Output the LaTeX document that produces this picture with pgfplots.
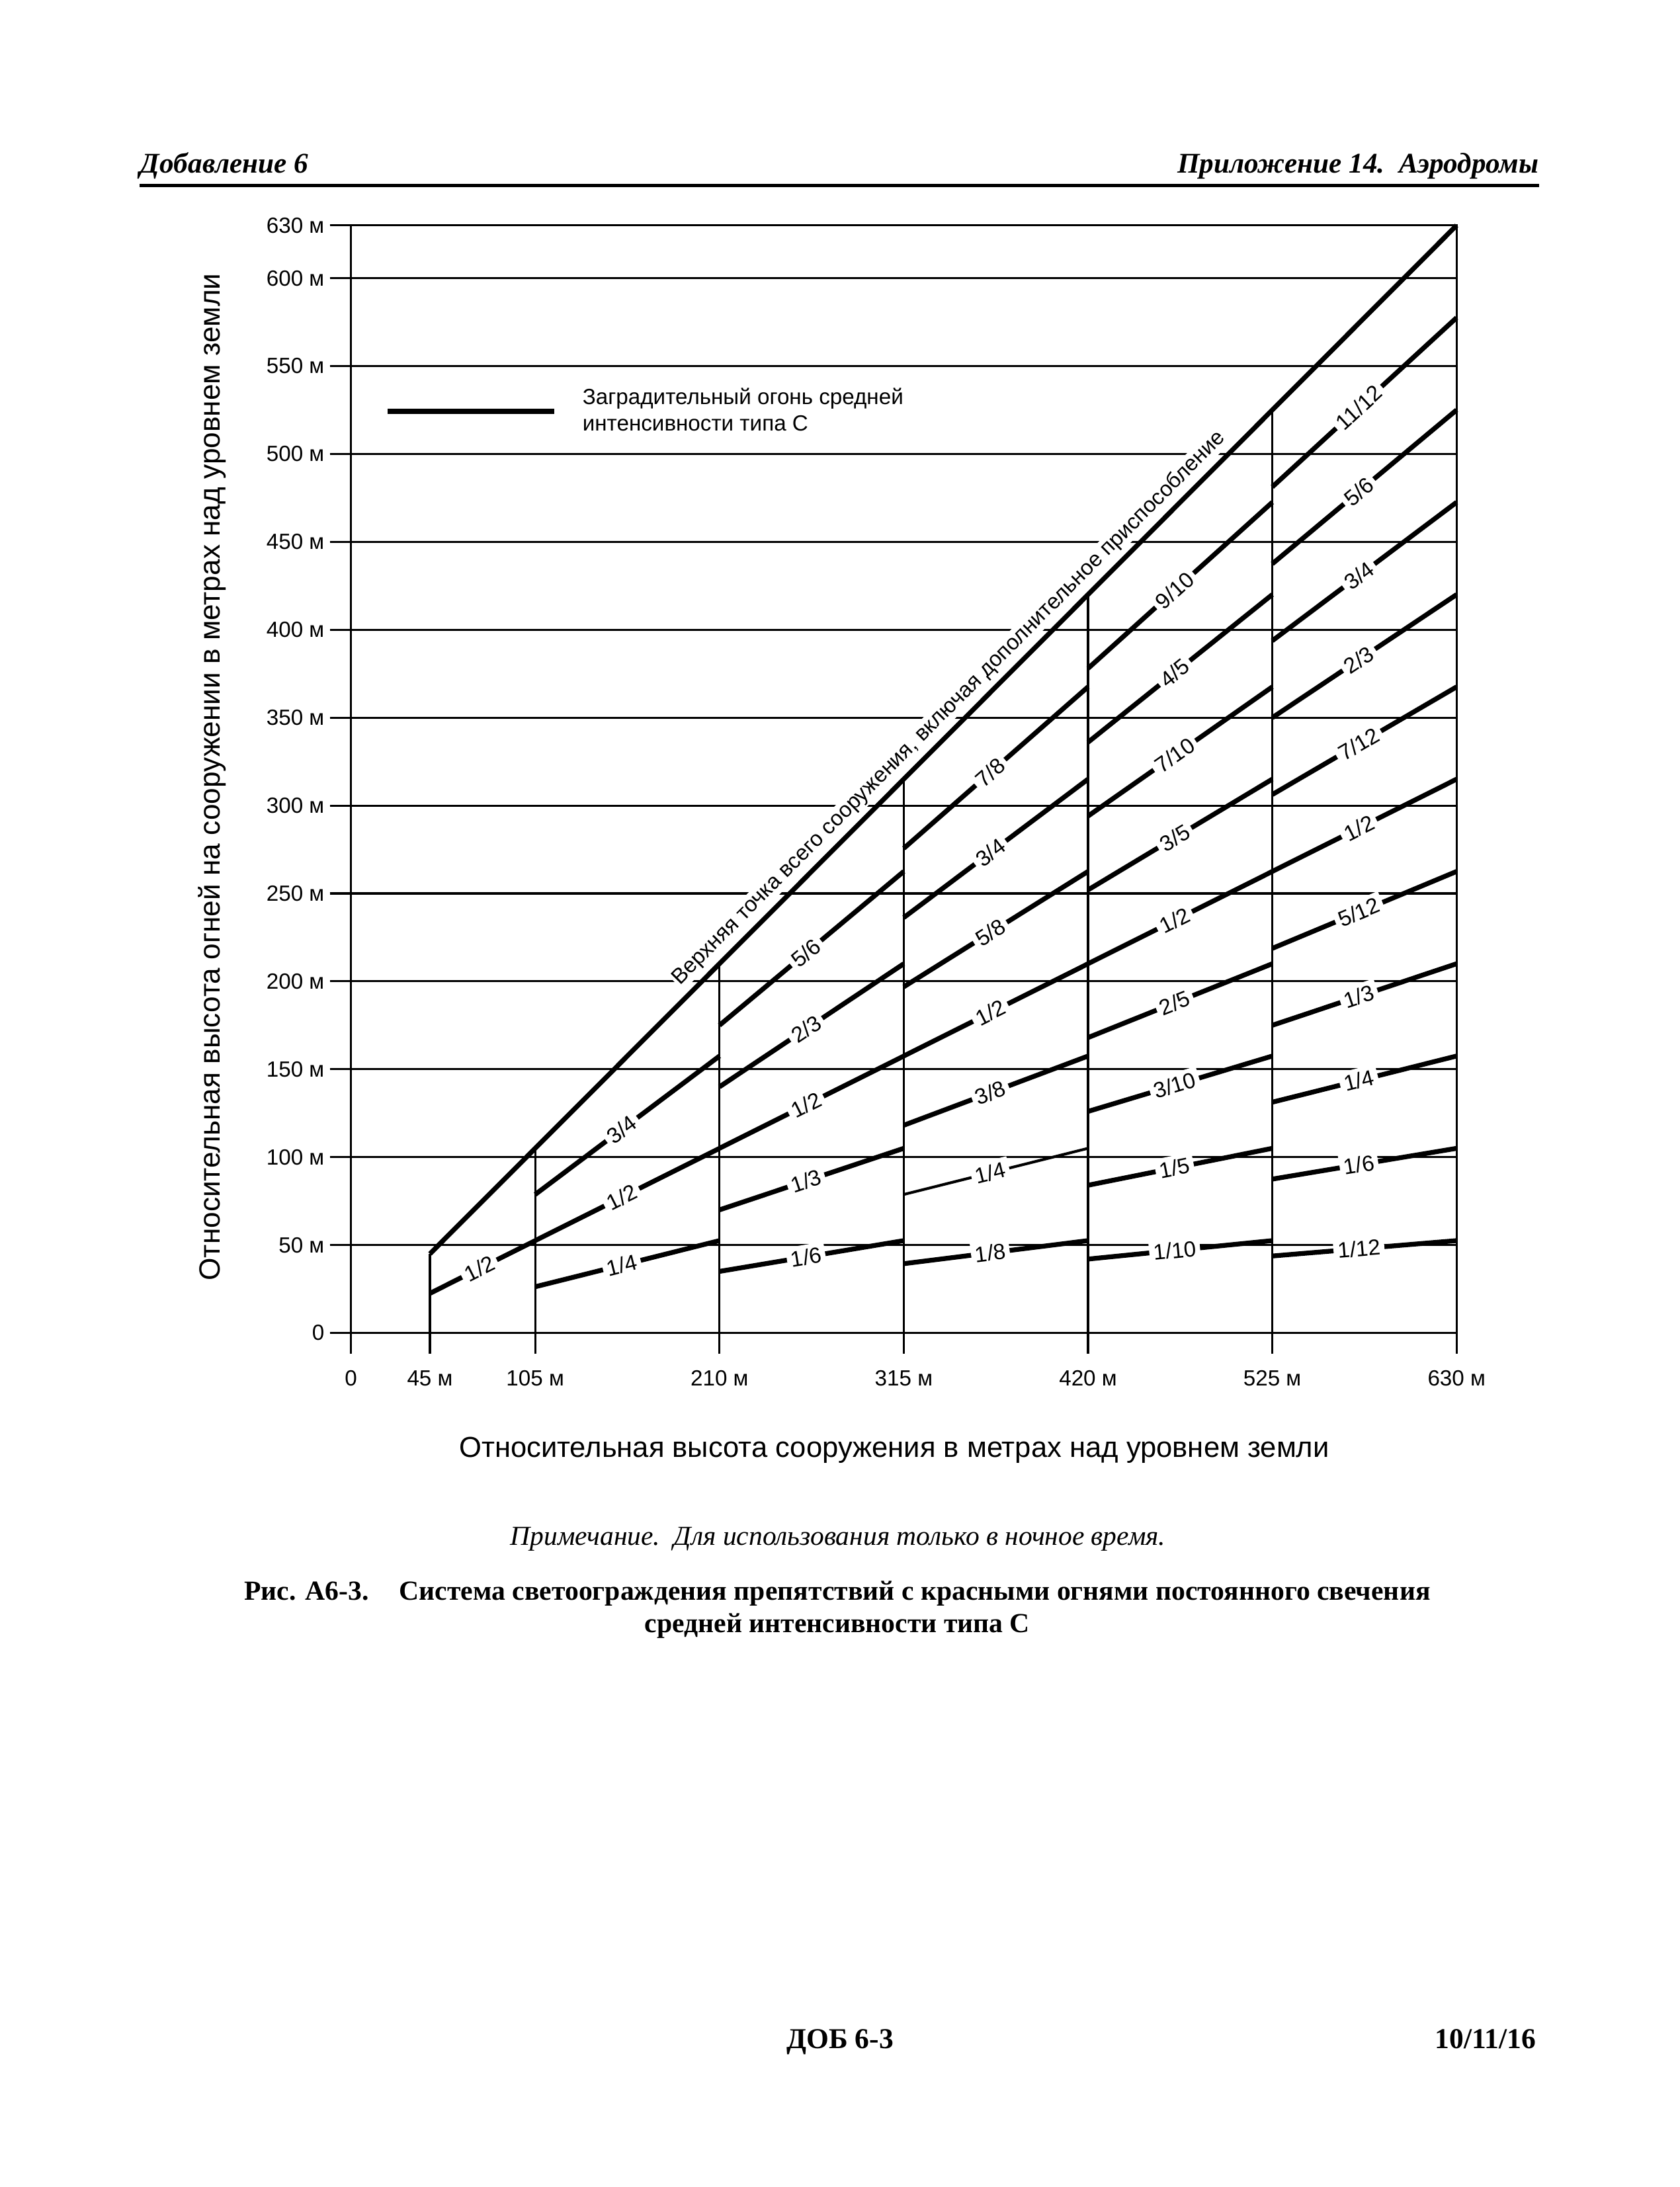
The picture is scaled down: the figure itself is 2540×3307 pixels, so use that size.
\documentclass[border=0pt]{standalone}
\usepackage{fontspec}
\setmainfont{Liberation Serif}
\setsansfont{Liberation Sans}
\usepackage{pgfplots}
\pgfplotsset{compat=1.18}

\tikzset{
 fr/.style={black, line width=1.75pt},
 frt/.style={black, line width=1.0pt},
 vl/.style={black, line width=0.75pt},
 lab/.style={pos=0.47, sloped, fill=white, inner sep=1.5pt, font=\sffamily\fontsize{8}{9}\selectfont},
}

\begin{document}
\begin{tikzpicture}
\begin{scope}[x=0.0084667cm, y=-0.0084667cm, shift={(0cm,27.999cm)}]
\path[use as bounding box] (0,0) rectangle (2540,3307);
% header
\node[anchor=base west, inner sep=0pt, font=\bfseries\itshape\fontsize{10.4}{13}\selectfont] at (211,262) {Добавление 6};
\node[anchor=base east, inner sep=0pt, font=\bfseries\itshape\fontsize{10.4}{13}\selectfont] at (2327,262) {Приложение 14.\ \ Аэродромы};
\draw[line width=1.2pt] (211,281) -- (2327,281);
% legend
\draw[line width=1.75pt] (586,622) -- (838,622);
\node[anchor=west, align=left, inner sep=0pt, font=\sffamily\fontsize{8}{9.6}\selectfont] at (880,619) {Заградительный огонь средней\\интенсивности типа С};
% axis titles
\node[anchor=base, inner sep=0pt, font=\sffamily\fontsize{10.5}{13}\selectfont] at (1352,2204) {Относительная высота сооружения в метрах над уровнем земли};
\node[rotate=90, anchor=center, inner sep=0pt, font=\sffamily\fontsize{10.65}{13}\selectfont] at (321,1175) {Относительная высота огней на сооружении в метрах над уровнем земли};
% note and caption
\node[anchor=base, inner sep=0pt, font=\itshape\fontsize{10}{12}\selectfont] at (1267,2337) {Примечание.\ \ Для использования только в ночное время.};
\node[anchor=center, align=center, inner sep=0pt, font=\bfseries\fontsize{10.05}{11.8}\selectfont] at (1266,2434) {Рис. А6-3.\hspace{1.1em}Система светоограждения препятствий с красными огнями постоянного свечения\\средней интенсивности типа С};
% footer
\node[anchor=base, inner sep=0pt, font=\bfseries\fontsize{10.5}{12}\selectfont] at (1270,3098) {ДОБ 6-3};
\node[anchor=base east, inner sep=0pt, font=\bfseries\fontsize{10.5}{12}\selectfont] at (2323,3098) {10/11/16};
\end{scope}

\begin{axis}[
 at={(4.4933cm,10.9305cm)}, anchor=south west,
 scale only axis, width=14.1563cm, height=14.1817cm,
 xmin=0, xmax=630, ymin=0, ymax=630,
 clip=false,
 axis line style={line width=0.75pt, black},
 xtick={0,45,105,210,315,420,525,630},
 xticklabels={0,45 м,105 м,210 м,315 м,420 м,525 м,630 м},
 ytick={0,50,100,150,200,250,300,350,400,450,500,550,600,630},
 yticklabels={0,50 м,100 м,150 м,200 м,250 м,300 м,350 м,400 м,450 м,500 м,550 м,600 м,630 м},
 tick pos=left, tick align=outside, major tick length=0.27cm,
 major tick style={line width=0.75pt, black},
 ymajorgrids, major grid style={line width=0.75pt, black},
 tick label style={font=\sffamily\fontsize{8}{9.6}\selectfont, text=black},
 xticklabel style={yshift=-2.5pt},
 yticklabel style={xshift=1.5pt},
]
% vertical structure-height lines
\addplot[vl] coordinates {(45,0) (45,45)};
\addplot[vl] coordinates {(105,0) (105,105)};
\addplot[vl] coordinates {(210,0) (210,210)};
\addplot[vl] coordinates {(315,0) (315,315)};
\addplot[vl] coordinates {(420,0) (420,420)};
\addplot[vl] coordinates {(525,0) (525,525)};
% envelope: top of the whole structure
\addplot[fr] coordinates {(45,45) (630,630)} node[pos=0.518, sloped, anchor=south, fill=white, inner sep=0.5pt, outer sep=2.4pt, font=\sffamily\fontsize{7.9}{9}\selectfont] {Верхняя точка всего сооружения, включая дополнительное приспособление};
% 45-105
\addplot[fr] coordinates {(45,22.5) (105,52.5)} node[lab] {1/2};
% 105-210
\addplot[fr] coordinates {(105,78.75) (210,157.5)} node[lab] {3/4};
\addplot[fr] coordinates {(105,52.5) (210,105)} node[lab] {1/2};
\addplot[fr] coordinates {(105,26.25) (210,52.5)} node[lab] {1/4};
% 210-315
\addplot[fr] coordinates {(210,175) (315,262.5)} node[lab] {5/6};
\addplot[fr] coordinates {(210,140) (315,210)} node[lab] {2/3};
\addplot[fr] coordinates {(210,105) (315,157.5)} node[lab] {1/2};
\addplot[fr] coordinates {(210,70) (315,105)} node[lab] {1/3};
\addplot[fr] coordinates {(210,35) (315,52.5)} node[lab] {1/6};
% 315-420
\addplot[fr] coordinates {(315,275.625) (420,367.5)} node[lab] {7/8};
\addplot[fr] coordinates {(315,236.25) (420,315)} node[lab] {3/4};
\addplot[fr] coordinates {(315,196.875) (420,262.5)} node[lab] {5/8};
\addplot[fr] coordinates {(315,157.5) (420,210)} node[lab] {1/2};
\addplot[fr] coordinates {(315,118.125) (420,157.5)} node[lab] {3/8};
\addplot[frt] coordinates {(315,78.75) (420,105)} node[lab] {1/4};
\addplot[fr] coordinates {(315,39.375) (420,52.5)} node[lab] {1/8};
% 420-525
\addplot[fr] coordinates {(420,378) (525,472.5)} node[lab] {9/10};
\addplot[fr] coordinates {(420,336) (525,420)} node[lab] {4/5};
\addplot[fr] coordinates {(420,294) (525,367.5)} node[lab] {7/10};
\addplot[fr] coordinates {(420,252) (525,315)} node[lab] {3/5};
\addplot[fr] coordinates {(420,210) (525,262.5)} node[lab] {1/2};
\addplot[fr] coordinates {(420,168) (525,210)} node[lab] {2/5};
\addplot[fr] coordinates {(420,126) (525,157.5)} node[lab] {3/10};
\addplot[fr] coordinates {(420,84) (525,105)} node[lab] {1/5};
\addplot[fr] coordinates {(420,42) (525,52.5)} node[lab] {1/10};
% 525-630
\addplot[fr] coordinates {(525,481.25) (630,577.5)} node[lab] {11/12};
\addplot[fr] coordinates {(525,437.5) (630,525)} node[lab] {5/6};
\addplot[fr] coordinates {(525,393.75) (630,472.5)} node[lab] {3/4};
\addplot[fr] coordinates {(525,350) (630,420)} node[lab] {2/3};
\addplot[fr] coordinates {(525,306.25) (630,367.5)} node[lab] {7/12};
\addplot[fr] coordinates {(525,262.5) (630,315)} node[lab] {1/2};
\addplot[fr] coordinates {(525,218.75) (630,262.5)} node[lab] {5/12};
\addplot[fr] coordinates {(525,175) (630,210)} node[lab] {1/3};
\addplot[fr] coordinates {(525,131.25) (630,157.5)} node[lab] {1/4};
\addplot[fr] coordinates {(525,87.5) (630,105)} node[lab] {1/6};
\addplot[fr] coordinates {(525,43.75) (630,52.5)} node[lab] {1/12};
\end{axis}
\end{tikzpicture}
\end{document}
